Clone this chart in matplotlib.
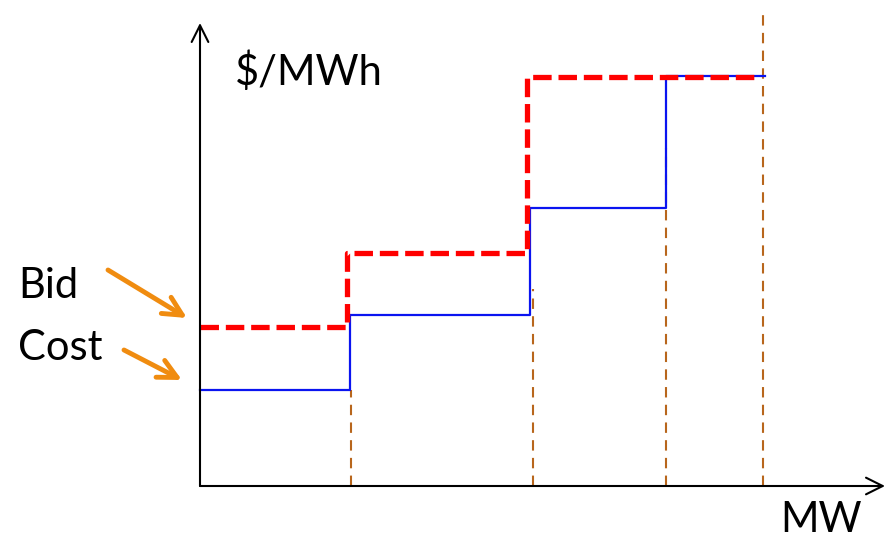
import matplotlib.pyplot as plt

# step curves (x in MW units, y in $/MWh units, arbitrary scale)
cost_x = [0, 150, 330, 466, 565]
cost_y = [96, 171, 278, 410, 410]
bid_x = [0, 147, 327, 560]
bid_y = [159, 233, 409, 409]
guide_x = [151, 333, 466, 563]
guide_top = [96, 197, 338, 474]

fig = plt.figure(figsize=(8.86, 5.42), dpi=100)
ax = fig.add_axes([0, 0, 1, 1])
ax.set_xlim(-200, 686)
ax.set_ylim(-56, 486)
ax.axis('off')

# axes with arrow heads
ax.annotate('', xy=(685, 0), xytext=(0, 0),
            arrowprops=dict(arrowstyle='->', lw=1.5, color='black',
                            mutation_scale=30, shrinkA=0, shrinkB=0))
ax.annotate('', xy=(0, 463), xytext=(0, 0),
            arrowprops=dict(arrowstyle='->', lw=1.5, color='black',
                            mutation_scale=30, shrinkA=0, shrinkB=0))

# dashed guide lines
for gx, gt in zip(guide_x, guide_top):
    ax.plot([gx, gx], [0, gt], color='#B8661C', lw=1.5, ls=(0, (5, 3.5)))

ax.plot(cost_x, cost_y, drawstyle='steps-post', color='#0A14F0', lw=1.6)
ax.plot(bid_x, bid_y, drawstyle='steps-post', color='#FF0000', lw=3.8,
        ls=(0, (3.5, 1.3)))

font = 'Lato'
ax.text(35, 401, '$/MWh', fontsize=30, family=font, va='baseline')
ax.text(-182, 188, 'Bid', fontsize=30, family=font, va='baseline')
ax.text(-182, 126, 'Cost', fontsize=30, family=font, va='baseline')
ax.text(580, -46, 'MW', fontsize=30, family=font, va='baseline')

orange = '#F08C10'
ax.annotate('', xy=(-13, 168), xytext=(-92, 216),
            arrowprops=dict(arrowstyle='->', lw=3.5, color=orange,
                            mutation_scale=34, shrinkA=0, shrinkB=0))
ax.annotate('', xy=(-18, 106), xytext=(-76, 136),
            arrowprops=dict(arrowstyle='->', lw=3.5, color=orange,
                            mutation_scale=34, shrinkA=0, shrinkB=0))

fig.savefig('out.png', dpi=100)
